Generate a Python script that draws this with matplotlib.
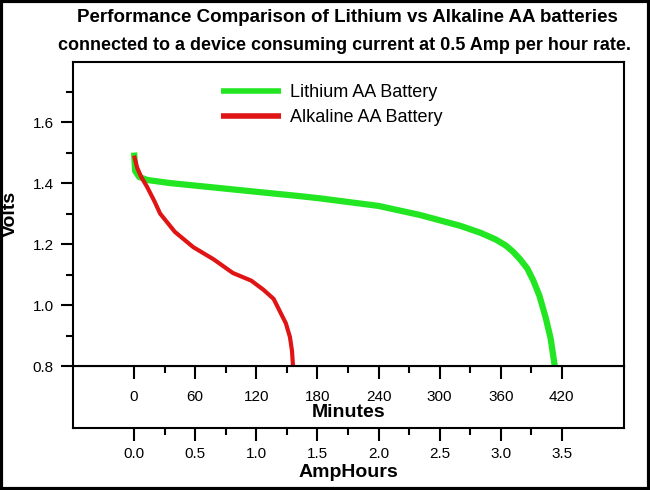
import numpy as np
import matplotlib
matplotlib.use("Agg")
import matplotlib.pyplot as plt
from matplotlib.patches import Rectangle

plt.rcParams['font.family'] = ['Liberation Sans', 'DejaVu Sans']

# curves (minutes, volts)
li_min = [0, 1, 5, 13, 35, 65, 124, 163, 182, 240, 281, 320, 340, 355, 365, 372, 379, 386, 392, 398, 404, 409, 413]
li_v = [1.50, 1.44, 1.42, 1.41, 1.40, 1.39, 1.37, 1.357, 1.35, 1.325, 1.295, 1.26, 1.237, 1.215, 1.195, 1.175, 1.15, 1.12, 1.08, 1.03, 0.96, 0.89, 0.80]
al_min = [0, 3, 7, 12.8, 20, 25.5, 40, 58, 78, 97, 115, 127, 137, 143, 149, 153, 155, 156]
al_v = [1.49, 1.45, 1.42, 1.387, 1.34, 1.30, 1.24, 1.19, 1.15, 1.105, 1.08, 1.05, 1.02, 0.98, 0.94, 0.895, 0.85, 0.80]
min_ticks = [0, 60, 120, 180, 240, 300, 360, 420]
ah_ticks = [0.0, 0.5, 1.0, 1.5, 2.0, 2.5, 3.0, 3.5]

W, H = 650, 490
fig = plt.figure(figsize=(6.5, 4.9), dpi=100)
fig.patches.append(Rectangle((0.002, 0.003), 0.996, 0.994, transform=fig.transFigure,
                             fill=False, lw=3, ec='black'))

x0, x1 = -60, 481
ax2 = fig.add_axes([73 / W, (H - 428) / H, 551 / W, 62 / H])
ax2.set_xlim(x0 / 120, x1 / 120)
ax2.set_yticks([])
ax2.set_xticks(ah_ticks)
ax2.set_xticks(np.arange(0.25, 3.5, 0.5), minor=True)
ax2.set_xticklabels([f"{t:.1f}" for t in ah_ticks])
ax2.set_xlabel("AmpHours", fontsize=14, fontweight='bold', labelpad=2)

ax = fig.add_axes([73 / W, (H - 366) / H, 551 / W, 304 / H])
ax.set_xlim(x0, x1)
ax.set_ylim(0.8, 1.797)
ax.plot(li_min, li_v, color='#22e622', lw=4.5, solid_capstyle='butt', label='Lithium AA Battery')
ax.plot(al_min, al_v, color='#e01414', lw=3, solid_capstyle='butt', label='Alkaline AA Battery')
ax.set_xticks(min_ticks)
ax.set_xticks(np.arange(30, 420, 60), minor=True)
ax.set_yticks([0.8, 1.0, 1.2, 1.4, 1.6])
ax.set_yticks(np.arange(0.9, 1.75, 0.2), minor=True)
ax.set_yticklabels([f"{t:.1f}" for t in [0.8, 1.0, 1.2, 1.4, 1.6]])
ax.set_xlabel("Minutes", fontsize=14, fontweight='bold', labelpad=0)
ax.set_ylabel("Volts", fontsize=14, fontweight='bold', labelpad=10)

for a in (ax, ax2):
    for s in a.spines.values():
        s.set_linewidth(1.5)
    a.tick_params(which='major', length=9, width=1.5, labelsize=11, pad=5)
    a.tick_params(which='minor', length=5, width=1.5)
ax.tick_params(axis='x', which='major', pad=8)

ax.legend(loc='upper left', bbox_to_anchor=(0.24, 0.98), frameon=False, fontsize=13,
          handlelength=3.3, labelspacing=0.45, handletextpad=0.5)
for line in ax.get_legend().get_lines():
    line.set_linewidth(4)

fig.text(0.535, 1 - 18 / H, "Performance Comparison of Lithium vs Alkaline AA batteries",
         ha='center', va='center', fontsize=13.5, fontweight='bold')
fig.text(0.53, 1 - 45 / H, "connected to a device consuming current at 0.5 Amp per hour rate.",
         ha='center', va='center', fontsize=13, fontweight='bold')

fig.savefig("out.png", dpi=100)
